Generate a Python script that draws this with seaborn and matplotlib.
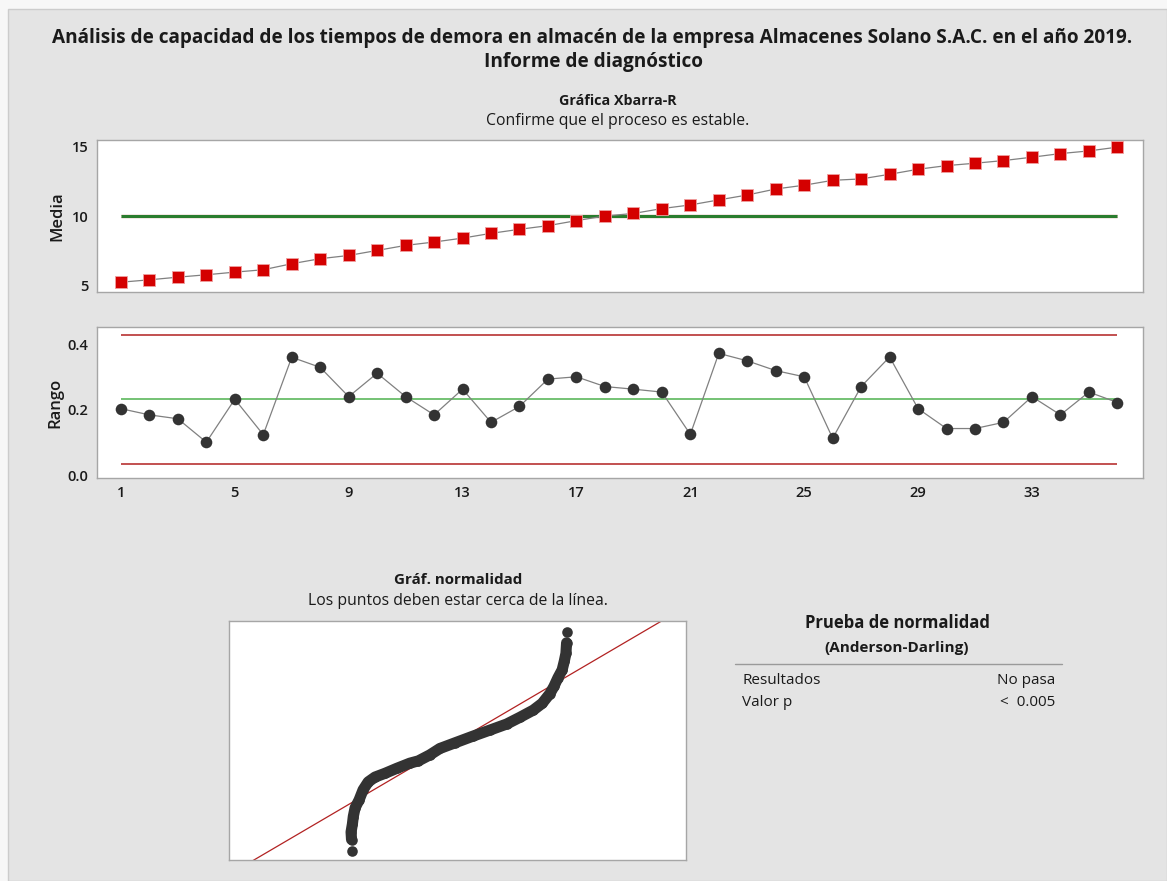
import numpy as np
import pandas as pd
import matplotlib
matplotlib.use("Agg")
import matplotlib.pyplot as plt
import seaborn as sns

# --- datos ---
subgrupos = list(range(1, 37))
medias = [5.27, 5.44, 5.63, 5.80, 5.99, 6.16, 6.59, 6.95, 7.18, 7.54, 7.90, 8.14,
          8.42, 8.76, 9.05, 9.31, 9.67, 10.00, 10.18, 10.53, 10.79, 11.15, 11.50, 11.93,
          12.20, 12.55, 12.65, 12.98, 13.34, 13.60, 13.77, 13.96, 14.20, 14.46, 14.65, 14.92]
rangos = [0.204, 0.185, 0.173, 0.101, 0.233, 0.124, 0.362, 0.331, 0.241, 0.313, 0.241, 0.185,
          0.264, 0.162, 0.211, 0.295, 0.302, 0.272, 0.264, 0.255, 0.125, 0.374, 0.351, 0.321,
          0.302, 0.113, 0.272, 0.363, 0.204, 0.143, 0.143, 0.162, 0.241, 0.185, 0.255, 0.223]

media_lc, media_lsc, media_lic = 10.0, 10.09, 9.91
rango_lc, rango_lsc, rango_lic = 0.234, 0.431, 0.034

# grafica de normalidad (tiempo vs. puntaje normal)
norm_tiempo = [5.26, 5.25, 5.23, 5.29, 5.33, 5.41, 5.59, 5.77, 6.00, 6.31, 6.76, 7.28,
               7.88, 8.26, 8.78, 9.23, 9.91, 10.73, 11.49, 12.24, 12.84, 13.44, 13.84,
               14.19, 14.37, 14.55, 14.74, 14.84, 14.91, 14.94, 14.94]
norm_z = [-2.93, -2.62, -2.42, -2.21, -2.01, -1.78, -1.57, -1.30, -1.09, -0.96, -0.86, -0.73,
          -0.59, -0.53, -0.37, -0.20, -0.05, 0.13, 0.29, 0.45, 0.63, 0.82, 1.00,
          1.26, 1.45, 1.68, 1.89, 2.13, 2.33, 2.61, 2.89]
ajuste_media, ajuste_sd = 10.0, 2.89

xticks = [1, 5, 9, 13, 17, 21, 25, 29, 33]

sns.set_theme(style="white")
plt.rcParams["font.family"] = ["Open Sans", "DejaVu Sans"]

W, H = 1167, 881
BG = "#e4e4e4"
SPINE = "#a6a6a6"
TXT = "#1a1a1a"

fig = plt.figure(figsize=(W / 100, H / 100), dpi=100)
fig.patch.set_facecolor("#f7f7f7")
# panel gris con borde, como en el informe
fig.add_artist(plt.Rectangle((8 / W, 0), 1 - 8 / W, 1 - 9 / H, transform=fig.transFigure,
                             facecolor=BG, edgecolor="#cccccc", lw=1.0, zorder=-10))


def px_axes(l, t, r, b):
    return fig.add_axes([l / W, 1 - b / H, (r - l) / W, (b - t) / H])


def style_axes(ax):
    ax.set_facecolor("white")
    for s in ax.spines.values():
        s.set_color(SPINE)
        s.set_linewidth(1.0)
    ax.tick_params(axis="both", length=4, width=0.8, color=SPINE,
                   labelsize=10.5, labelcolor=TXT, pad=2)
    for lab in ax.get_xticklabels() + ax.get_yticklabels():
        lab.set_fontweight("semibold")


df = pd.DataFrame({"subgrupo": subgrupos, "media": medias, "rango": rangos})

# --- Xbarra ---
ax1 = px_axes(97, 140, 1143, 292)
ax1.hlines([media_lsc, media_lic], subgrupos[0], subgrupos[-1], color="#d06060", lw=1.0, alpha=0.7)
ax1.hlines(media_lc, subgrupos[0], subgrupos[-1], color="#2a7d2e", lw=2.2)
sns.lineplot(data=df, x="subgrupo", y="media", ax=ax1, color="#808080", lw=0.9)
sns.scatterplot(data=df, x="subgrupo", y="media", ax=ax1, marker="s", s=75,
                color="#d40000", edgecolor="#f0a0a0", linewidth=0.6, zorder=3)
ax1.set_xlim(0.16, 36.9)
ax1.set_ylim(4.57, 15.43)
ax1.set_yticks([5, 10, 15])
ax1.set_xticks([])
ax1.set_xlabel("")
ax1.set_ylabel("Media", fontsize=12, fontweight="semibold", color=TXT, labelpad=5)
style_axes(ax1)

# --- Rango ---
ax2 = px_axes(97, 327, 1143, 478)
ax2.hlines([rango_lsc, rango_lic], subgrupos[0], subgrupos[-1], color="#b83232", lw=1.2)
ax2.hlines(rango_lc, subgrupos[0], subgrupos[-1], color="#5cb85c", lw=1.2)
sns.lineplot(data=df, x="subgrupo", y="rango", ax=ax2, color="#808080", lw=0.9)
sns.scatterplot(data=df, x="subgrupo", y="rango", ax=ax2, marker="o", s=70,
                color="#333333", edgecolor="#333333", linewidth=0, zorder=3)
ax2.set_xlim(0.16, 36.9)
ax2.set_ylim(-0.009, 0.455)
ax2.set_yticks([0.0, 0.2, 0.4])
ax2.set_yticklabels(["0.0", "0.2", "0.4"])
ax2.set_xticks(xticks)
ax2.set_xticklabels([str(v) for v in xticks])
ax2.set_xlabel("")
ax2.set_ylabel("Rango", fontsize=12, fontweight="semibold", color=TXT, labelpad=3)
style_axes(ax2)

# --- normalidad ---
ax3 = px_axes(229, 621, 686, 860)
ax3.set_xlim(-0.27, 20.32)
ax3.set_ylim(-3.165, 3.19)
xr = np.array(ax3.get_xlim())
ax3.plot(xr, (xr - ajuste_media) / ajuste_sd, color="#b22222", lw=0.9, zorder=2)
ndf = pd.DataFrame({"tiempo": norm_tiempo, "z": norm_z})
ax3.plot(ndf["tiempo"][1:-1], ndf["z"][1:-1], color="#333333", lw=8.0,
         solid_capstyle="round", solid_joinstyle="round", zorder=3)
sns.scatterplot(data=ndf, x="tiempo", y="z", ax=ax3, marker="o", s=58,
                color="#333333", linewidth=0, zorder=4)
ax3.set_xticks([])
ax3.set_yticks([])
ax3.set_xlabel("")
ax3.set_ylabel("")
style_axes(ax3)

# --- textos ---
def ftext(x, y, s, **kw):
    fig.text(x / W, 1 - y / H, s, color=TXT, **kw)

ftext(592, 38, "Análisis de capacidad de los tiempos de demora en almacén de la empresa Almacenes Solano S.A.C. en el año 2019.",
      ha="center", va="center", fontsize=13.7, fontweight="bold")
ftext(594, 62, "Informe de diagnóstico", ha="center", va="center", fontsize=13.7, fontweight="bold")
ftext(618, 101, "Gráfica Xbarra-R", ha="center", va="center", fontsize=10.3, fontweight="bold")
ftext(618, 121, "Confirme que el proceso es estable.", ha="center", va="center", fontsize=11.3)
ftext(458, 580, "Gráf. normalidad", ha="center", va="center", fontsize=10.9, fontweight="bold")
ftext(458, 601, "Los puntos deben estar cerca de la línea.", ha="center", va="center", fontsize=11.3)

ftext(897, 623, "Prueba de normalidad", ha="center", va="center", fontsize=12, fontweight="bold")
ftext(897, 648, "(Anderson-Darling)", ha="center", va="center", fontsize=11, fontweight="bold")
fig.add_artist(plt.Line2D([735 / W, 1062 / W], [1 - 664 / H, 1 - 664 / H], color="#9a9a9a", lw=1.0))
ftext(742, 680, "Resultados", ha="left", va="center", fontsize=11)
ftext(1055, 680, "No pasa", ha="right", va="center", fontsize=11)
ftext(742, 702, "Valor p", ha="left", va="center", fontsize=11)
ftext(1055, 702, "<  0.005", ha="right", va="center", fontsize=11)

fig.savefig("out.png", dpi=100, facecolor=fig.get_facecolor())
